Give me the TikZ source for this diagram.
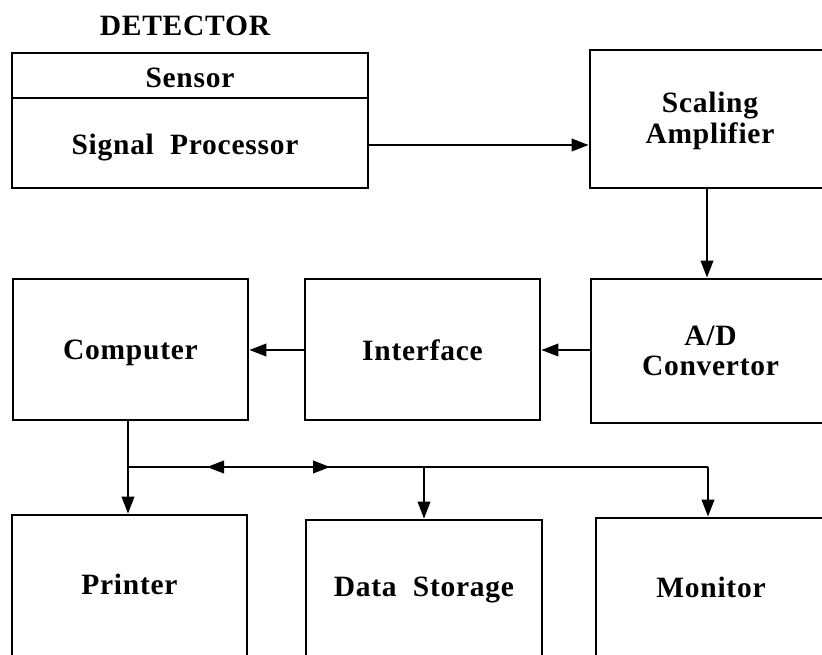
\documentclass[tikz,border=0pt]{standalone}
\usepackage{fontspec}
\setmainfont{Liberation Serif}[LetterSpace=2.5]
\usetikzlibrary{arrows.meta,calc}
\newcommand{\lowr}[2]{\raisebox{#1}[\height][\depth]{#2}}
\begin{document}
\begin{tikzpicture}[x=1pt,y=-1pt,
  lbl/.style={font=\bfseries\fontsize{29.5}{30.5}\selectfont,align=center},
  box/.style={draw,line width=2.8pt,rectangle,inner sep=0pt,lbl},
  arr/.style={line width=2.2pt,-{Triangle[length=17pt,width=12.5pt]}},
  ln/.style={line width=2.2pt}]
\useasboundingbox (0,0) rectangle (822,655);
\clip (0,0) rectangle (822,655);
% detector
\node[box,minimum width=356pt,minimum height=135pt] (det) at (190,120.5) {};
\draw[ln] (det.west |- 0,98) -- (det.east |- 0,98);
\node[lbl] (dlabel) at (185,26) {DETECTOR};
\node[lbl] (sensor) at (190,78) {Sensor};
\node[lbl] (sp) at (185,148) {Signal\ \ Processor};
% other boxes
\node[box,minimum width=240pt,minimum height=138pt] (amp) at (710,119) {\lowr{-2pt}{Scaling}\\\lowr{-2pt}{Amplifier}};
\node[box,minimum width=239pt,minimum height=144pt] (ad) at (710.5,351) {A/D\\Convertor};
\node[box,minimum width=235pt,minimum height=141pt] (iface) at (422.5,349.5) {\lowr{-1pt}{Interface}};
\node[box,minimum width=235pt,minimum height=141pt] (comp) at (130.5,349.5) {\lowr{-3.5pt}{Computer}};
\node[box,minimum width=235pt,minimum height=145pt] (prn) at (129.5,587.5) {\lowr{3.5pt}{Printer}};
\node[box,minimum width=236pt,minimum height=140pt] (ds) at (424,590) {Data\ \ Storage};
\node[box,minimum width=230pt,minimum height=142pt] (mon) at (711,589) {\lowr{1.5pt}{Monitor}};
% connectors
\draw[arr] (det.east |- 0,145) -- (amp.west |- 0,145);
\draw[arr] (amp.south -| 707,0) -- (ad.north -| 707,0);
\draw[arr] (ad.west |- 0,350) -- (iface.east |- 0,350);
\draw[arr] (iface.west |- 0,350) -- (comp.east |- 0,350);
\coordinate (bus) at (128,467);
\coordinate (busr) at (708,467);
\coordinate (ldst) at (207,467);
\coordinate (rdst) at (330,467);
\draw[ln] (bus |- comp.south) -- (bus) -- (busr);
\draw[arr] (bus) -- (bus |- prn.north);
\draw[arr] (ds.north |- bus) -- (ds.north);
\draw[arr] (busr) -- (busr |- mon.north);
\draw[arr] ($(ldst)+(20,0)$) -- (ldst);
\draw[arr] ($(rdst)-(20,0)$) -- (rdst);
\end{tikzpicture}
\end{document}
